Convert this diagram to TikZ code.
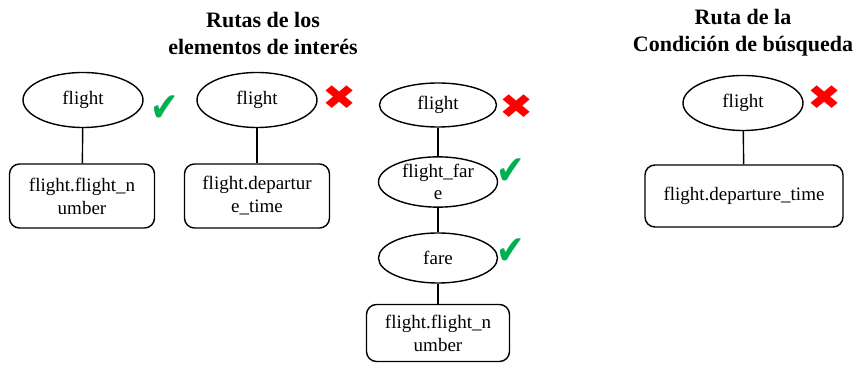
\documentclass[tikz,border=0pt]{standalone}
\usepackage{fontspec}
\setmainfont{Liberation Serif}
\newfontfamily\symfont{DejaVu Sans}
\usepackage[svgnames, dvipsnames]{xcolor}
\usetikzlibrary{shapes.geometric}
\definecolor{okgreen}{RGB}{0,176,80}
\definecolor{badred}{RGB}{255,0,0}
\tikzset{
  elem/.style={ellipse,draw,line width=0.7pt,inner sep=0pt,
    minimum width=60pt,minimum height=27.5pt,align=center,
    font=\fontsize{9.5}{11}\selectfont},
  leaf/.style={rectangle,rounded corners=5pt,draw,line width=0.7pt,
    inner sep=0pt,minimum width=72.5pt,minimum height=32pt,align=center,
    font=\fontsize{9.5}{11.5}\selectfont},
  heading/.style={align=center,font=\fontsize{11}{13.5}\selectfont\bfseries},
  ok/.style={text=okgreen,font=\fontsize{17}{17}\selectfont\symfont,inner sep=0pt,yscale=1.2},
  bad/.style={text=badred,font=\fontsize{17}{17}\selectfont\symfont,inner sep=0pt,xscale=1.2}}

\begin{document}
\begin{tikzpicture}[x=0.5pt,y=-0.5pt]
\useasboundingbox (0,0) rectangle (858,368);
\node[heading] (title1) at (263,33) {Rutas de los\\elementos de interés};
\node[heading] (title2) at (743,33) {Ruta de la\\Condición de búsqueda};

% first path
\node[elem] (e1) at (83,100) {flight};
\node[leaf] (b1) at (82,196) {flight.flight\_n\\umber};
\draw[line width=0.7pt] (e1) -- (b1);
\node[ok] (m1) at (165,109) {✔};

% second path
\node[elem] (e2) at (257,100) {flight};
\node[leaf] (b2) at (257,196) {flight.departur\\e\_time};
\draw[line width=0.7pt] (e2) -- (b2);
\node[bad] (m2) at (340,98) {✖};

% third path
\node[elem,minimum width=58.5pt,minimum height=22pt] (e3a) at (438,105) {flight};
\node[elem,minimum width=59.5pt,minimum height=24.5pt] (e3b) at (438,182) {flight\_far\\e};
\node[elem,minimum width=59.5pt,minimum height=25pt] (e3c) at (438,258) {fare};
\node[leaf,minimum width=71.5pt,minimum height=28.5pt] (b3) at (438,333) {flight.flight\_n\\umber};
\draw[line width=0.7pt] (e3a) -- (e3b) (e3b) -- (e3c) (e3c) -- (b3);
\node[bad] (m3a) at (517,107) {✖};
\node[ok] (m3b) at (511,172) {✔};
\node[ok] (m3c) at (511,252) {✔};

% search condition
\node[elem] (e4) at (743,103) {flight};
\node[leaf,minimum width=99pt,minimum height=31pt] (b4) at (744,196) {flight.departure\_time};
\draw[line width=0.7pt] (e4) -- (b4);
\node[bad] (m4) at (825,98) {✖};
\end{tikzpicture}
\end{document}
